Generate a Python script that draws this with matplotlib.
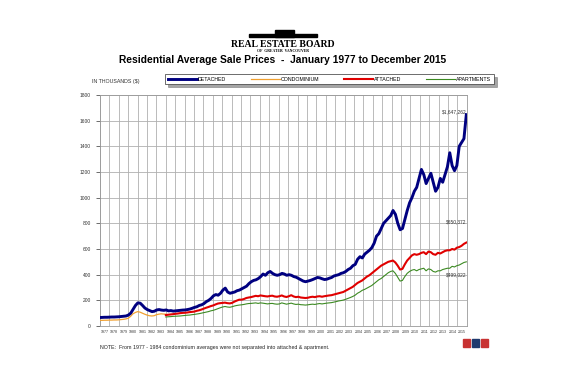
import matplotlib.pyplot as plt
import numpy as np

plt.rcParams['font.family'] = ['Liberation Sans', 'DejaVu Sans']

# quarterly averages (thousands $)
detached = [66, 67, 68, 68, 69, 70, 70, 71, 72, 74, 76, 78,
            85, 100, 130, 160, 180, 178, 160, 140, 128, 120, 112, 115,
            125, 128, 124, 122, 125, 118, 120, 116, 118, 120, 122, 124,
            125, 128, 132, 138, 145, 150, 160, 165, 175, 190, 200, 215,
            235, 245, 240, 255, 280, 295, 265, 255, 260, 265, 275, 280,
            290, 300, 310, 330, 345, 355, 360, 370, 385, 405, 395, 415,
            425, 410, 400, 395, 400, 410, 405, 395, 400, 395, 385, 380,
            370, 360, 350, 345, 350, 355, 362, 370, 378, 375, 368, 362,
            365, 372, 378, 390, 395, 400, 410, 415, 425, 440, 450, 470,
            480, 520, 540, 530, 560, 575, 590, 610, 645, 700, 720, 760,
            800, 820, 840, 860, 900, 870, 800, 750, 760, 830, 900, 960,
            1000, 1050, 1080, 1150, 1220, 1180, 1110, 1150, 1190, 1120, 1050, 1080,
            1150, 1120, 1180, 1240, 1350, 1250, 1210, 1250, 1400, 1430, 1460, 1647]

condominium = [44, 44, 45, 45, 46, 46, 47, 47, 48, 50, 52, 55,
               60, 75, 95, 105, 112, 108, 100, 92, 85, 80, 78, 80,
               88, 92, 95, 93, 92]

attached = [85, 88, 90, 92, 95, 97, 100, 102, 103, 105, 108, 110,
            112, 118, 122, 128, 135, 142, 148, 155, 160, 168, 175, 178,
            180, 182, 178, 176, 180, 190, 198, 205, 205, 210, 218, 222,
            225, 230, 235, 232, 238, 235, 232, 230, 234, 236, 230, 228,
            232, 238, 230, 226, 232, 240, 230, 225, 228, 222, 220, 218,
            220, 225, 228, 225, 230, 232, 228, 232, 235, 238, 240, 245,
            250, 255, 260, 265, 275, 285, 295, 305, 320, 335, 345, 355,
            370, 385, 395, 410, 425, 440, 455, 470, 480, 490, 500, 505,
            510, 495, 470, 440, 445, 480, 510, 530, 550, 560, 555, 560,
            570, 575, 560, 580, 575, 560, 555, 570, 565, 575, 585, 590,
            590, 600, 595, 610, 615, 625, 640, 650]

apartments = [70, 72, 73, 75, 76, 77, 78, 80, 82, 84, 85, 88,
              90, 93, 96, 100, 104, 108, 112, 118, 122, 128, 135, 142,
              148, 152, 148, 146, 150, 156, 160, 163, 165, 168, 172, 175,
              176, 178, 180, 176, 180, 178, 175, 172, 175, 176, 172, 170,
              172, 180, 175, 170, 174, 178, 172, 168, 170, 166, 165, 163,
              165, 168, 170, 168, 172, 175, 172, 175, 178, 180, 182, 186,
              190, 195, 198, 202, 208, 215, 222, 230, 240, 255, 265, 278,
              285, 295, 305, 315, 330, 345, 360, 370, 385, 400, 415, 425,
              430, 410, 380, 350, 355, 385, 410, 425, 435, 440, 430, 440,
              445, 450, 430, 445, 440, 425, 420, 430, 430, 440, 445, 450,
              450, 465, 460, 470, 475, 485, 495, 500]

years = list(range(1977, 2016))
end_labels = ["$1,647,262", "$650,372", "$499,022"]

t_det = np.linspace(1977.0, 2015.95, len(detached))
t_condo = np.linspace(1977.0, 1984.0, len(condominium))
t_att = np.linspace(1984.0, 2015.95, len(attached))
t_apt = np.linspace(1984.0, 2015.95, len(apartments))

fig = plt.figure(figsize=(5.66, 3.77), dpi=100)
ax = fig.add_axes([0.1767, 0.1353, 0.648, 0.6127])

ax.plot(t_det, detached, color='#000080', lw=2.1, label='DETACHED', zorder=5)
ax.plot(t_condo, condominium, color='#f0a030', lw=0.9, label='CONDOMINIUM', zorder=3)
ax.plot(t_att, attached, color='#e00000', lw=1.5, label='ATTACHED', zorder=4)
ax.plot(t_apt, apartments, color='#3c8a22', lw=0.8, label='APARTMENTS', zorder=3)

ax.set_xlim(1977, 2016)
ax.set_ylim(0, 1800)
ax.set_yticks(range(0, 1801, 200))
ax.set_xticks(range(1977, 2017), minor=False)
ax.set_xticklabels([])
ax.set_xticks([y + 0.5 for y in years], minor=True)
ax.set_xticklabels([str(y) for y in years], minor=True)
ax.tick_params(axis='x', which='minor', length=0, labelsize=2.6, pad=3, colors='#333333')
ax.tick_params(axis='x', which='major', length=0)
ax.tick_params(axis='y', labelsize=3.5, length=3, colors='#333333', width=0.5)
ax.grid(True, which='major', color='#b0b0b0', lw=0.6)
for s in ax.spines.values():
    s.set_color('#999999')
    s.set_linewidth(0.6)

ax.text(2016, 1647, end_labels[0], fontsize=3.5, ha='right', va='bottom', color='#333333')
ax.text(2016, 790, end_labels[1], fontsize=3.5, ha='right', va='bottom', color='#333333')
ax.text(2016, 400, end_labels[2], fontsize=3.5, ha='right', va='center', color='#333333')

leg = fig.legend(loc='center', bbox_to_anchor=(0.582, 0.79), ncol=4, fontsize=3.8,
                 frameon=True, fancybox=False, shadow=True, handlelength=5.5,
                 columnspacing=4.8, borderpad=0.5, handletextpad=0.1)
leg.get_frame().set_edgecolor('#333333')
leg.get_frame().set_linewidth(0.5)

fig.text(0.163, 0.785, 'IN THOUSANDS ($)', fontsize=3.8, ha='left', va='center', color='#333333')

fig.text(0.5, 0.84, 'Residential Average Sale Prices  -  January 1977 to December 2015',
         fontsize=7.4, fontweight='bold', ha='center', va='center')
fig.text(0.5, 0.883, 'REAL ESTATE BOARD', fontsize=7, fontweight='bold',
         family='Liberation Serif', ha='center', va='center')
fig.text(0.5, 0.864, 'OF  GREATER  VANCOUVER', fontsize=2.8, fontweight='bold',
         family='Liberation Serif', ha='center', va='center')
# skyline bar above logo
fig.add_artist(plt.Rectangle((0.44, 0.903), 0.12, 0.006, color='black', transform=fig.transFigure))
fig.add_artist(plt.Rectangle((0.485, 0.903), 0.035, 0.018, color='black', transform=fig.transFigure))

fig.text(0.177, 0.077, 'NOTE:  From 1977 - 1984 condominium averages were not separated into attached & apartment.',
         fontsize=3.8, ha='left', va='center', color='#222222')

for x0, c in zip([0.818, 0.834, 0.85], ['#c83232', '#1f3a6e', '#c83232']):
    fig.add_artist(plt.Rectangle((x0, 0.08), 0.013, 0.022, color=c, transform=fig.transFigure))

fig.savefig('out.png', dpi=100)
